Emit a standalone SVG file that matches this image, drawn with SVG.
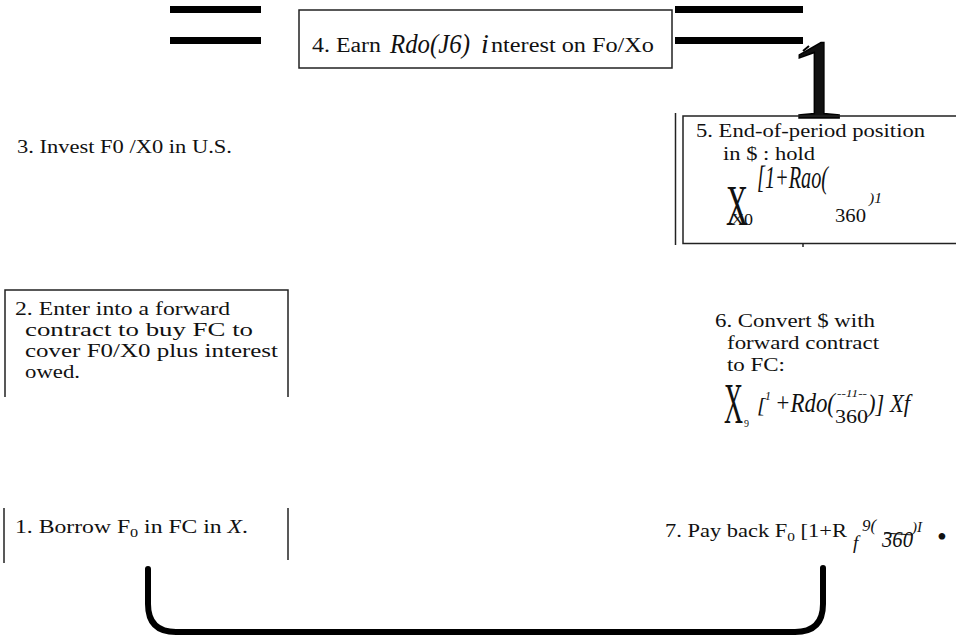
<svg xmlns="http://www.w3.org/2000/svg" width="956" height="638" viewBox="0 0 956 638">
<style>
.t{font-family:"Liberation Serif","Times New Roman",serif;fill:#111}
.it{font-style:italic}
.box{fill:none;stroke:#222;stroke-width:1.5}
.bar{fill:#000}
.conn{fill:none;stroke:#000;stroke-width:6;stroke-linecap:round;stroke-linejoin:round}
</style>
<rect width="956" height="638" fill="#fff"/>
<g id="connectors">
  <rect class="bar" x="170" y="6" width="91" height="7"/>
  <rect class="bar" x="170" y="37" width="91" height="7"/>
  <rect class="bar" x="675" y="6" width="128" height="7"/>
  <rect class="bar" x="675" y="37" width="128" height="7"/>
  <path d="M803,51 L809,46" stroke="#000" stroke-width="2" fill="none"/>
  <text class="t" x="789" y="118" font-size="114" stroke="#000" stroke-width="1.5">1</text>
  <path class="conn" d="M148,569 V604 Q148,632 176,632 H795 Q823,632 823,604 V568"/>
</g>
<g id="n4">
  <rect class="box" x="299" y="10" width="373" height="58"/>
  <text class="t" x="312" y="52" font-size="20" textLength="69" lengthAdjust="spacingAndGlyphs">4. Earn</text>
  <text class="t it" x="390" y="53" font-size="28" textLength="80" lengthAdjust="spacingAndGlyphs">Rdo(J6)</text>
  <text class="t it" x="481" y="53" font-size="28">i</text>
  <text class="t" x="491" y="52" font-size="20" textLength="163" lengthAdjust="spacingAndGlyphs">nterest on Fo/Xo</text>
</g>
<g id="n3">
  <text class="t" x="17" y="153" font-size="19" textLength="215" lengthAdjust="spacingAndGlyphs">3. Invest F0 /X0 in U.S.</text>
</g>
<g id="n5">
  <line class="box" x1="675.5" y1="113" x2="675.5" y2="245"/>
  <path class="box" d="M956,116 H683 V243.5 H956"/>
  <line class="box" x1="803" y1="243" x2="803" y2="247" stroke-width="1"/>
  <text class="t" x="696" y="137" font-size="19" textLength="229" lengthAdjust="spacingAndGlyphs">5. End-of-period position</text>
  <text class="t" x="723" y="160" font-size="19" textLength="92" lengthAdjust="spacingAndGlyphs">in $ : hold</text>
  <text class="t it" x="757" y="188" font-size="32" textLength="71" lengthAdjust="spacingAndGlyphs">[1+Rao(</text>
  <text class="t" x="726" y="225" font-size="56" textLength="22" lengthAdjust="spacingAndGlyphs">X</text>
  <text class="t" x="731" y="225" font-size="17" textLength="22" lengthAdjust="spacingAndGlyphs">X0</text>
  <text class="t" x="835" y="222" font-size="19" textLength="31" lengthAdjust="spacingAndGlyphs">360</text>
  <text class="t it" x="869" y="203" font-size="15" textLength="13" lengthAdjust="spacingAndGlyphs">)1</text>
</g>
<g id="n2">
  <path class="box" d="M5,397 V290 H288 V397"/>
  <text class="t" x="15" y="315" font-size="19" textLength="215" lengthAdjust="spacingAndGlyphs">2. Enter into a forward</text>
  <text class="t" x="25" y="336" font-size="19" textLength="228" lengthAdjust="spacingAndGlyphs">contract to buy FC to</text>
  <text class="t" x="25" y="357" font-size="19" textLength="253" lengthAdjust="spacingAndGlyphs">cover F0/X0 plus interest</text>
  <text class="t" x="25" y="378" font-size="19" textLength="55" lengthAdjust="spacingAndGlyphs">owed.</text>
</g>
<g id="n6">
  <text class="t" x="715" y="327" font-size="19" textLength="160" lengthAdjust="spacingAndGlyphs">6. Convert $ with</text>
  <text class="t" x="727" y="349" font-size="19" textLength="152" lengthAdjust="spacingAndGlyphs">forward contract</text>
  <text class="t" x="727" y="371" font-size="19" textLength="58" lengthAdjust="spacingAndGlyphs">to FC:</text>
  <text class="t" x="724" y="423" font-size="56" textLength="19" lengthAdjust="spacingAndGlyphs">X</text>
  <text class="t" x="744" y="427" font-size="10">9</text>
  <text class="t it" x="757" y="412" font-size="22">[</text>
  <text class="t it" x="765" y="400" font-size="12">1</text>
  <text class="t it" x="775" y="412" font-size="28" textLength="60" lengthAdjust="spacingAndGlyphs">+Rdo(</text>
  <text class="t it" x="837" y="397" font-size="11" textLength="30" lengthAdjust="spacingAndGlyphs">--11--</text>
  <text class="t" x="835" y="423" font-size="19" textLength="33" lengthAdjust="spacingAndGlyphs">360</text>
  <text class="t it" x="868" y="412" font-size="26" textLength="42" lengthAdjust="spacingAndGlyphs">)] Xf</text>
</g>
<g id="n1">
  <line class="box" x1="4" y1="508" x2="4" y2="563"/>
  <line class="box" x1="288" y1="508" x2="288" y2="560"/>
  <text class="t" x="15" y="533" font-size="19" textLength="233" lengthAdjust="spacingAndGlyphs">1. Borrow F<tspan font-size="13" dy="4">0</tspan><tspan dy="-4"> in FC in </tspan><tspan class="it">X</tspan>.</text>
</g>
<g id="n7">
  <text class="t" x="665" y="537" font-size="19" textLength="182" lengthAdjust="spacingAndGlyphs">7. Pay back F<tspan font-size="13" dy="4">0</tspan><tspan dy="-4"> [1+R</tspan></text>
  <text class="t it" x="853" y="549" font-size="19">f</text>
  <text class="t it" x="862" y="531" font-size="17">9(</text>
  <text class="t it" x="882" y="547" font-size="24" textLength="31" lengthAdjust="spacingAndGlyphs">360</text>
  <line x1="884" y1="533" x2="913" y2="535" stroke="#111" stroke-width="1"/>
  <text class="t it" x="912" y="532" font-size="15">)I</text>
  <text class="t" x="937" y="546" font-size="28">•</text>
</g>
</svg>
